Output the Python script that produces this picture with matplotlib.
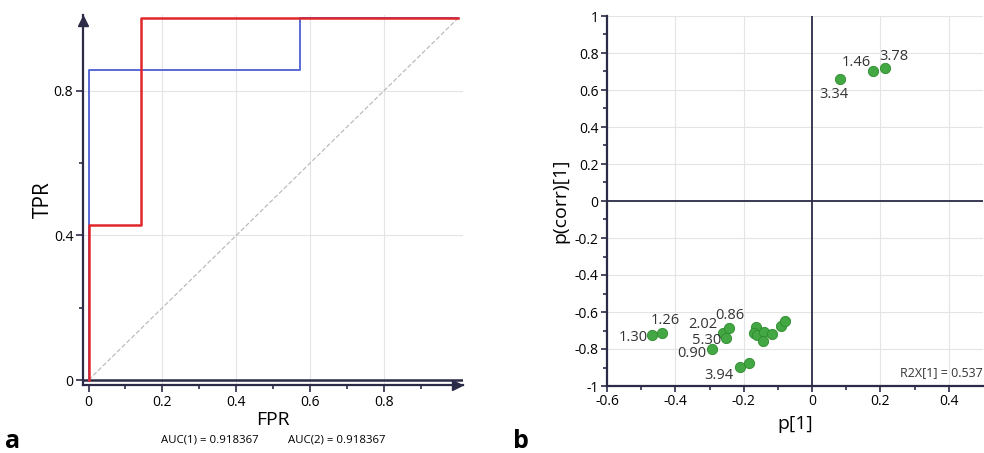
import matplotlib
matplotlib.use('Agg')
import matplotlib.pyplot as plt
import numpy as np

plt.rcParams['font.family'] = ['Open Sans', 'DejaVu Sans']

# ROC curves (panel a)
roc1_fpr = [0, 0, 4 / 7, 4 / 7, 1]
roc1_tpr = [0, 6 / 7, 6 / 7, 1, 1]
roc2_fpr = [0, 0, 1 / 7, 1 / 7, 1]
roc2_tpr = [0, 3 / 7, 3 / 7, 1, 1]
auc_text = ['AUC(1) = 0.918367', 'AUC(2) = 0.918367']

# loadings (panel b)
p1 = [0.083, 0.177, 0.213,
      -0.467, -0.438, -0.294, -0.260, -0.244, -0.251, -0.211, -0.184,
      -0.165, -0.171, -0.161, -0.141, -0.117, -0.143, -0.090, -0.078]
pcorr = [0.658, 0.703, 0.717,
         -0.726, -0.715, -0.802, -0.711, -0.686, -0.741, -0.899, -0.876,
         -0.681, -0.713, -0.726, -0.708, -0.719, -0.757, -0.677, -0.647]
pt_labels = ['3.34', '1.46', '3.78',
             '1.30', '1.26', '0.90', '2.02', '0.86', '5.30', '3.94', None,
             None, None, None, None, None, None, None, None]
r2x = 'R2X[1] = 0.537'

navy = '#2b2b48'
grid_c = '#e4e4e4'

fig = plt.figure(figsize=(9.84, 4.53), dpi=100)

# ---------- panel a ----------
ax = fig.add_axes([83 / 984, 68 / 453, 380 / 984, 370 / 453])
ax.set_xlim(-0.015, 1.0135)
ax.set_ylim(-0.0138, 1.009)
ax.set_xticks([0, 0.2, 0.4, 0.6, 0.8])
ax.set_xticklabels(['0', '0.2', '0.4', '0.6', '0.8'])
ax.set_xticks(np.arange(0.1, 1.0, 0.2), minor=True)
ax.set_yticks([0, 0.4, 0.8])
ax.set_yticklabels(['0', '0.4', '0.8'])
ax.set_yticks([0.2, 0.6], minor=True)
for x in [0.2, 0.4, 0.6, 0.8]:
    ax.axvline(x, color=grid_c, lw=0.8, zorder=0)
for y in [0.4, 0.8]:
    ax.axhline(y, color=grid_c, lw=0.8, zorder=0)
ax.plot([0, 1], [0, 1], ls=(0, (4, 2)), color='#b5b5b5', lw=0.8, zorder=1)
ax.axhline(0, color=navy, lw=1.8, zorder=2)
ax.plot(roc1_fpr, roc1_tpr, color='#5a6ad8', lw=1.4, zorder=3)
ax.plot(roc2_fpr, roc2_tpr, color='#e0262b', lw=1.8, zorder=4)
for s in ['top', 'right']:
    ax.spines[s].set_visible(False)
for s in ['left', 'bottom']:
    ax.spines[s].set_color(navy)
    ax.spines[s].set_linewidth(1.6)
ax.tick_params(which='major', length=5, width=1.2, color=navy, labelsize=10, pad=2)
ax.tick_params(which='minor', length=3, width=1.2, color=navy)
ax.plot(0.985, 0, '>', transform=ax.transAxes, color=navy, ms=7, clip_on=False, zorder=5)
ax.plot(0, 0.985, '^', transform=ax.transAxes, color=navy, ms=7, clip_on=False, zorder=5)
ax.set_ylabel('TPR', fontsize=15, labelpad=0)
ax.set_xlabel('FPR', fontsize=14, labelpad=1)
fig.text(210 / 984, 1 - 440 / 453, auc_text[0], fontsize=8.2, ha='center', va='center')
fig.text(337 / 984, 1 - 440 / 453, auc_text[1], fontsize=8.2, ha='center', va='center')
fig.text(5 / 984, 1 - 441 / 453, 'a', fontsize=18, fontweight='bold', ha='left', va='center')

# ---------- panel b ----------
bx = fig.add_axes([607 / 984, 67 / 453, 376 / 984, 370 / 453])
bx.set_xlim(-0.6, 0.5)
bx.set_ylim(-1, 1)
bx.set_xticks([-0.6, -0.4, -0.2, 0, 0.2, 0.4])
bx.set_xticklabels(['-0.6', '-0.4', '-0.2', '0', '0.2', '0.4'])
bx.set_xticks([-0.5, -0.3, -0.1, 0.1, 0.3], minor=True)
yt = [-1, -0.8, -0.6, -0.4, -0.2, 0, 0.2, 0.4, 0.6, 0.8, 1]
bx.set_yticks(yt)
bx.set_yticklabels(['-1', '-0.8', '-0.6', '-0.4', '-0.2', '0', '0.2', '0.4', '0.6', '0.8', '1'])
bx.set_yticks(np.arange(-0.9, 1.0, 0.2), minor=True)
for x in [-0.4, -0.2, 0.2, 0.4]:
    bx.axvline(x, color=grid_c, lw=0.8, zorder=0)
for y in yt[1:]:
    bx.axhline(y, color=grid_c, lw=0.8, zorder=0)
bx.axhline(0, color=navy, lw=1.3, zorder=1)
bx.axvline(0, color=navy, lw=1.3, zorder=1)
bx.scatter(p1, pcorr, s=55, color='#43a743', edgecolors='#2e8b2e', linewidths=0.6, zorder=3)

offsets = {
    '3.34': (-7, -15), '1.46': (-16, 8), '3.78': (9, 12),
    '1.30': (-19, -2), '1.26': (3, 13), '2.02': (-20, 8),
    '0.86': (1, 12), '5.30': (-20, -2), '0.90': (-20, -4), '3.94': (-21, -8),
}
for x, y, lab in zip(p1, pcorr, pt_labels):
    if lab is None:
        continue
    dx, dy = offsets[lab]
    bx.annotate(lab, (x, y), xytext=(dx, dy), textcoords='offset pixels',
                ha='center', va='center', fontsize=10.5, color='#333333', zorder=4)

for s in ['top', 'right']:
    bx.spines[s].set_visible(False)
for s in ['left', 'bottom']:
    bx.spines[s].set_color(navy)
    bx.spines[s].set_linewidth(1.6)
bx.tick_params(which='major', length=4, width=1.2, color=navy, labelsize=10, pad=2)
bx.tick_params(which='minor', length=3, width=1.2, color=navy)
bx.text(0.498, -0.93, r2x, fontsize=9, ha='right', va='center', color='#333333')
bx.set_ylabel('p(corr)[1]', fontsize=14, labelpad=4)
bx.set_xlabel('p[1]', fontsize=14, labelpad=4)
fig.text(513 / 984, 1 - 441 / 453, 'b', fontsize=18, fontweight='bold', ha='left', va='center')

fig.savefig('out.png', dpi=100)
